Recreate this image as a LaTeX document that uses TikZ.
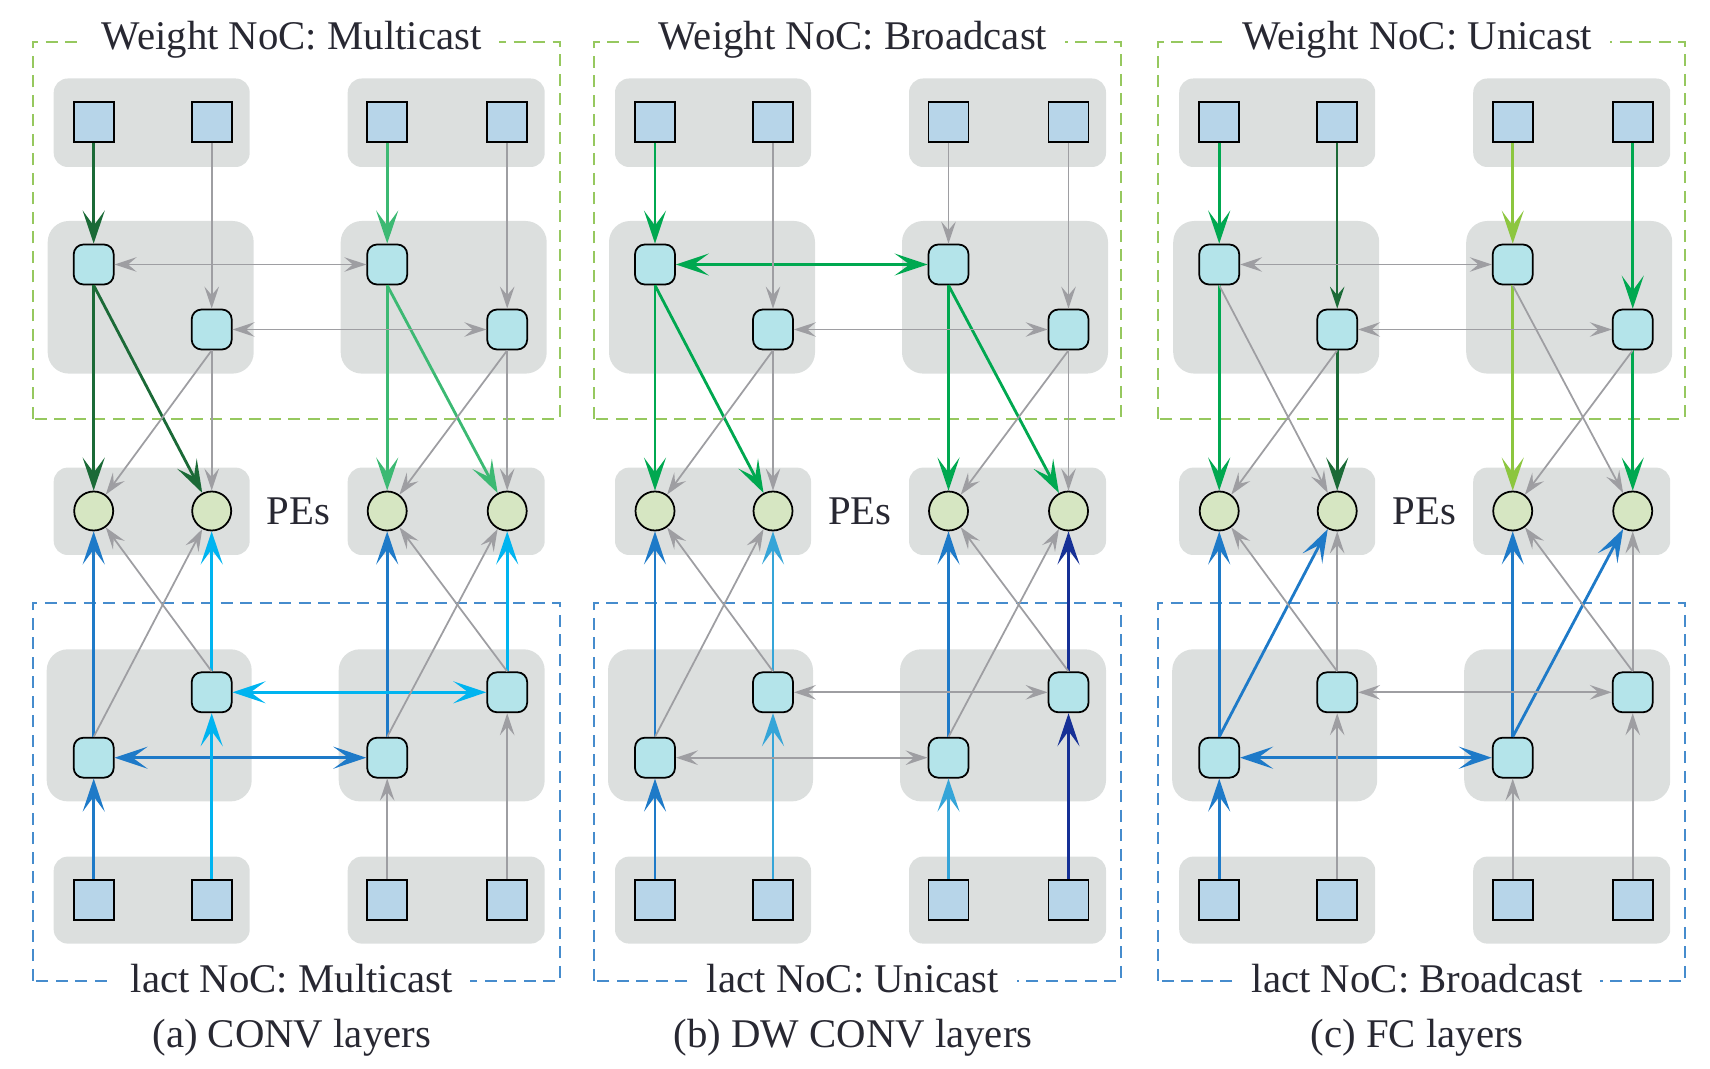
\documentclass[tikz,border=0pt]{standalone}
\usepackage{fontspec}
\setmainfont{Liberation Serif}
\usetikzlibrary{arrows.meta}

\definecolor{grpgray}{RGB}{220,223,222}
\definecolor{bufblue}{RGB}{183,213,233}
\definecolor{rtrcyan}{RGB}{180,228,234}
\definecolor{pegreen}{RGB}{214,230,194}
\definecolor{lnkgray}{RGB}{158,158,162}
\definecolor{inkdark}{RGB}{40,40,50}
\definecolor{wboxgreen}{RGB}{150,200,95}
\definecolor{iboxblue}{RGB}{70,140,205}
% colours of the active flows
\definecolor{wdark}{RGB}{27,106,55}
\definecolor{wmid}{RGB}{60,185,115}
\definecolor{wgreen}{RGB}{0,168,80}
\definecolor{wlime}{RGB}{140,198,63}
\definecolor{iblue}{RGB}{30,122,200}
\definecolor{icyan}{RGB}{0,180,240}
\definecolor{isky}{RGB}{53,165,216}
\definecolor{inavy}{RGB}{22,48,150}

\begin{document}
\begin{tikzpicture}[
  font=\fontsize{11.6}{13}\selectfont,
  text=inkdark,
  fattip/.tip={Stealth[length=3.3mm,width=2.2mm,inset=1.5mm]},
  slimtip/.tip={Stealth[length=2.2mm,width=1.45mm,inset=0.85mm]},
  grp/.style={fill=grpgray, rounded corners=4pt},
  bigGrp/.style={fill=grpgray, rounded corners=6pt},
  buf/.style={
    draw=black, line width=0.5pt, fill=bufblue,
    minimum size=0.4cm, inner sep=0pt
  },
  rtr/.style={
    draw=black, line width=0.5pt, fill=rtrcyan,
    minimum size=0.4cm, inner sep=0pt, rounded corners=2.8pt
  },
  pe/.style={
    circle, draw=black, line width=0.5pt, fill=pegreen,
    minimum size=0.39cm, inner sep=0pt
  },
  noc/.style={fill=white, inner xsep=5pt, inner ysep=1pt, anchor=base},
  nocbox/.style={line width=0.55pt, dash pattern=on 1.2mm off 0.75mm},
  link/.style={draw=lnkgray, line width=0.5pt, -{slimtip}},
  flow/.style={draw=#1, line width=0.8pt, -{fattip}}
]
  \useasboundingbox (0,0) rectangle (17.1,10.68);

  % One panel per layer type: boundaries, clusters and nodes.
  \foreach \p/\x/\wcast/\icast/\lbl in {
      a/0.327/Multicast/Multicast/{(a) CONV layers},
      b/5.94/Broadcast/Unicast/{(b) DW CONV layers},
      c/11.582/Unicast/Broadcast/{(c) FC layers}} {
    \begin{scope}[xshift=\x cm]
      \draw[wboxgreen, nocbox] (0,6.49) rectangle (5.27,10.26);
      \draw[iboxblue, nocbox] (0,0.873) rectangle (5.27,4.65);
      \node[noc] (\p-wt) at (2.59,10.18) {Weight NoC: \wcast};
      \node[noc] (\p-it) at (2.59,0.76) {lact NoC: \icast};
      \node[anchor=base] (\p-cap) at (2.59,0.21) {\lbl};

      % clusters
      \fill[grp] (0.21,9.01) rectangle (2.17,9.895);
      \fill[grp] (3.15,9.01) rectangle (5.12,9.895);
      \fill[bigGrp] (0.15,6.944) rectangle (2.21,8.47);
      \fill[bigGrp] (3.08,6.944) rectangle (5.14,8.47);
      \fill[grp] (0.21,5.13) rectangle (2.17,6.004);
      \fill[grp] (3.15,5.13) rectangle (5.12,6.004);
      \fill[bigGrp] (0.14,2.666) rectangle (2.19,4.187);
      \fill[bigGrp] (3.06,2.666) rectangle (5.12,4.187);
      \fill[grp] (0.21,1.244) rectangle (2.17,2.114);
      \fill[grp] (3.15,1.244) rectangle (5.12,2.114);

      % weight buffers and routers
      \node[buf] (\p-W1) at (0.61,9.46) {};
      \node[buf] (\p-W2) at (1.79,9.46) {};
      \node[buf] (\p-W3) at (3.545,9.46) {};
      \node[buf] (\p-W4) at (4.745,9.46) {};
      \node[rtr] (\p-R1) at (0.61,8.035) {};
      \node[rtr] (\p-R2) at (1.79,7.385) {};
      \node[rtr] (\p-R3) at (3.545,8.035) {};
      \node[rtr] (\p-R4) at (4.745,7.385) {};

      % PEs
      \node[pe] (\p-P1) at (0.61,5.57) {};
      \node[pe] (\p-P2) at (1.79,5.57) {};
      \node[pe] (\p-P3) at (3.545,5.57) {};
      \node[pe] (\p-P4) at (4.745,5.57) {};
      \node[anchor=base] (\p-pes) at (2.66,5.43) {PEs};

      % iact routers and buffers
      \node[rtr] (\p-Q1) at (0.61,3.103) {};
      \node[rtr] (\p-Q2) at (1.79,3.757) {};
      \node[rtr] (\p-Q3) at (3.545,3.103) {};
      \node[rtr] (\p-Q4) at (4.745,3.757) {};
      \node[buf] (\p-S1) at (0.61,1.682) {};
      \node[buf] (\p-S2) at (1.79,1.682) {};
      \node[buf] (\p-S3) at (3.545,1.682) {};
      \node[buf] (\p-S4) at (4.745,1.682) {};
    \end{scope}
  }

  % (a) CONV: weights multicast, iacts multicast
  \foreach \s/\t in {a-W1/a-R1, a-R1/a-P1, a-R1.south/a-P2}
    \draw[flow=wdark] (\s) -- (\t);
  \foreach \s/\t in {a-W3/a-R3, a-R3/a-P3, a-R3.south/a-P4}
    \draw[flow=wmid] (\s) -- (\t);
  \foreach \s/\t in {a-W2/a-R2, a-R2/a-P2, a-R2.south/a-P1,
                     a-W4/a-R4, a-R4/a-P4, a-R4.south/a-P3}
    \draw[link] (\s) -- (\t);
  \draw[link, {slimtip}-{slimtip}] (a-R1) -- (a-R3);
  \draw[link, {slimtip}-{slimtip}] (a-R2) -- (a-R4);
  \foreach \s/\t in {a-S1/a-Q1, a-Q1/a-P1, a-Q3/a-P3}
    \draw[flow=iblue] (\s) -- (\t);
  \draw[flow=iblue, {fattip}-{fattip}] (a-Q1) -- (a-Q3);
  \foreach \s/\t in {a-S2/a-Q2, a-Q2/a-P2, a-Q4/a-P4}
    \draw[flow=icyan] (\s) -- (\t);
  \draw[flow=icyan, {fattip}-{fattip}] (a-Q2) -- (a-Q4);
  \foreach \s/\t in {a-S3/a-Q3, a-S4/a-Q4, a-Q1.north/a-P2,
                     a-Q2.north/a-P1, a-Q3.north/a-P4, a-Q4.north/a-P3}
    \draw[link] (\s) -- (\t);

  % (b) DW CONV: weights broadcast, iacts unicast
  \foreach \s/\t in {b-W1/b-R1, b-R1/b-P1, b-R1.south/b-P2,
                     b-R3/b-P3, b-R3.south/b-P4}
    \draw[flow=wgreen] (\s) -- (\t);
  \draw[flow=wgreen, {fattip}-{fattip}] (b-R1) -- (b-R3);
  \foreach \s/\t in {b-W2/b-R2, b-W3/b-R3, b-W4/b-R4, b-R2/b-P2,
                     b-R2.south/b-P1, b-R4/b-P4, b-R4.south/b-P3}
    \draw[link] (\s) -- (\t);
  \draw[link, {slimtip}-{slimtip}] (b-R2) -- (b-R4);
  \foreach \s/\t in {b-S1/b-Q1, b-Q1/b-P1, b-Q3/b-P3}
    \draw[flow=iblue] (\s) -- (\t);
  \foreach \s/\t in {b-S2/b-Q2, b-Q2/b-P2, b-S3/b-Q3}
    \draw[flow=isky] (\s) -- (\t);
  \foreach \s/\t in {b-S4/b-Q4, b-Q4/b-P4}
    \draw[flow=inavy] (\s) -- (\t);
  \foreach \s/\t in {b-Q1.north/b-P2, b-Q2.north/b-P1,
                     b-Q3.north/b-P4, b-Q4.north/b-P3}
    \draw[link] (\s) -- (\t);
  \draw[link, {slimtip}-{slimtip}] (b-Q1) -- (b-Q3);
  \draw[link, {slimtip}-{slimtip}] (b-Q2) -- (b-Q4);

  % (c) FC: weights unicast, iacts broadcast
  \foreach \s/\t in {c-W1/c-R1, c-R1/c-P1, c-W4/c-R4, c-R4/c-P4}
    \draw[flow=wgreen] (\s) -- (\t);
  \foreach \s/\t in {c-W3/c-R3, c-R3/c-P3}
    \draw[flow=wlime] (\s) -- (\t);
  \draw[link, draw=wdark] (c-W2) -- (c-R2);
  \draw[flow=wdark] (c-R2) -- (c-P2);
  \foreach \s/\t in {c-R1.south/c-P2, c-R2.south/c-P1,
                     c-R3.south/c-P4, c-R4.south/c-P3}
    \draw[link] (\s) -- (\t);
  \draw[link, {slimtip}-{slimtip}] (c-R1) -- (c-R3);
  \draw[link, {slimtip}-{slimtip}] (c-R2) -- (c-R4);
  \foreach \s/\t in {c-S1/c-Q1, c-Q1/c-P1, c-Q1.north/c-P2,
                     c-Q3/c-P3, c-Q3.north/c-P4}
    \draw[flow=iblue] (\s) -- (\t);
  \draw[flow=iblue, {fattip}-{fattip}] (c-Q1) -- (c-Q3);
  \foreach \s/\t in {c-S2/c-Q2, c-Q2/c-P2, c-Q2.north/c-P1, c-S3/c-Q3,
                     c-S4/c-Q4, c-Q4/c-P4, c-Q4.north/c-P3}
    \draw[link] (\s) -- (\t);
  \draw[link, {slimtip}-{slimtip}] (c-Q2) -- (c-Q4);

\end{tikzpicture}
\end{document}
